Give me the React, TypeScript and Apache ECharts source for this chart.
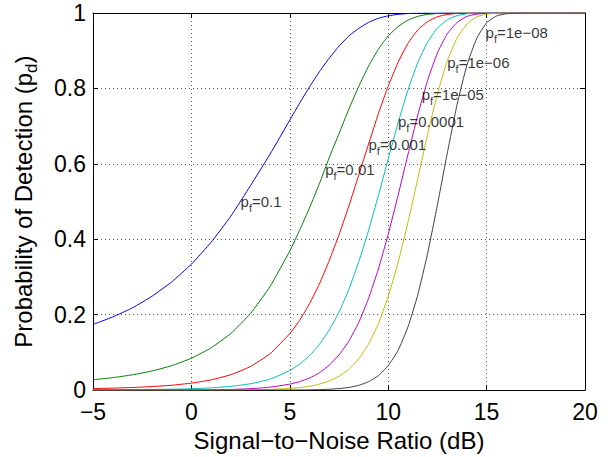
import React, { useEffect, useRef } from 'react';
import * as echarts from 'echarts';

// SNR grid (dB)
const snrDb = [-5, -4, -3, -2, -1, 0, 1, 2, 3, 4, 5, 5.5, 6, 6.5, 7, 7.5, 8, 8.5, 9, 9.5, 10, 10.5, 11, 11.5, 12, 12.5, 13, 13.5, 14, 14.5, 15, 15.5, 16, 17, 18, 19, 20];

// Probability of detection, one array per false-alarm probability
const pdPf1e1 = [0.174, 0.194, 0.218, 0.249, 0.287, 0.334, 0.392, 0.461, 0.542, 0.626, 0.716, 0.761, 0.804, 0.844, 0.880, 0.912, 0.939, 0.959, 0.975, 0.986, 0.9925, 0.9965, 0.9985, 0.9994, 0.9998, 1, 1, 1, 1, 1, 1, 1, 1, 1, 1, 1, 1];
const pdPf1e2 = [0.0275, 0.033, 0.0405, 0.0507, 0.0648, 0.0845, 0.112, 0.150, 0.203, 0.275, 0.369, 0.424, 0.483, 0.547, 0.616, 0.680, 0.745, 0.805, 0.859, 0.904, 0.939, 0.964, 0.981, 0.991, 0.9964, 0.9987, 0.9996, 1, 1, 1, 1, 1, 1, 1, 1, 1, 1];
const pdPf1e3 = [0.0041, 0.0052, 0.0069, 0.0093, 0.0129, 0.0185, 0.0271, 0.0408, 0.0624, 0.0967, 0.150, 0.185, 0.229, 0.281, 0.343, 0.412, 0.488, 0.570, 0.652, 0.733, 0.806, 0.869, 0.919, 0.955, 0.977, 0.990, 0.996, 0.999, 0.9997, 1, 1, 1, 1, 1, 1, 1, 1];
const pdPf1e4 = [0.0006, 0.0008, 0.0011, 0.0016, 0.0024, 0.0037, 0.0059, 0.0098, 0.0168, 0.029, 0.052, 0.069, 0.091, 0.121, 0.159, 0.207, 0.267, 0.340, 0.423, 0.516, 0.613, 0.708, 0.795, 0.868, 0.923, 0.960, 0.982, 0.993, 0.998, 0.9995, 1, 1, 1, 1, 1, 1, 1];
const pdPf1e5 = [0.0001, 0.0001, 0.0002, 0.0003, 0.0004, 0.0006, 0.0010, 0.0018, 0.0038, 0.0078, 0.0158, 0.0225, 0.032, 0.046, 0.066, 0.093, 0.130, 0.179, 0.243, 0.321, 0.413, 0.516, 0.624, 0.729, 0.821, 0.894, 0.9445, 0.975, 0.991, 0.997, 0.9993, 0.9999, 1, 1, 1, 1, 1];
const pdPf1e6 = [0, 0, 0, 0, 0, 0.0001, 0.0002, 0.0004, 0.0009, 0.0019, 0.0045, 0.0068, 0.0103, 0.0158, 0.0243, 0.0368, 0.0552, 0.083, 0.122, 0.176, 0.248, 0.338, 0.444, 0.560, 0.678, 0.785, 0.873, 0.934, 0.971, 0.990, 0.997, 0.9994, 0.9999, 1, 1, 1, 1];
const pdPf1e8 = [0, 0, 0, 0, 0, 0, 0, 0, 0, 0, 0.0002, 0.0004, 0.0007, 0.0013, 0.0022, 0.0040, 0.0070, 0.0125, 0.0222, 0.0382, 0.065, 0.105, 0.167, 0.252, 0.362, 0.491, 0.628, 0.757, 0.862, 0.933, 0.974, 0.992, 0.998, 1, 1, 1, 1];

const seriesData = [pdPf1e1, pdPf1e2, pdPf1e3, pdPf1e4, pdPf1e5, pdPf1e6, pdPf1e8];
const pfNames = ['0.1', '0.01', '0.001', '0.0001', '1e\u221205', '1e\u221206', '1e\u221208'];
const labelAnchorX = [2.5, 6.8, 9.0, 10.5, 11.7, 13.0, 14.95];
const labelAnchorY = [0.5, 0.585, 0.652, 0.712, 0.785, 0.868, 0.948];

const colors = ['#0000ff', '#008000', '#ff0000', '#00bfbf', '#bf00bf', '#bfbf00', '#404040'];
const FONT = 'Liberation Sans, Arial, Helvetica, sans-serif';

export default function App() {
  const ref = useRef<HTMLDivElement>(null);
  useEffect(() => {
    document.body.style.margin = '0';
    const chart = echarts.init(ref.current as HTMLDivElement, null, { renderer: 'svg' });
    const axisLineStyle = { color: '#000', width: 1 };
    const lines = seriesData.map((arr, k) => ({
      type: 'line',
      name: 'pf=' + pfNames[k],
      data: snrDb.map((x, i) => [x, arr[i]]),
      showSymbol: false,
      smooth: 0.15,
      clip: true,
      lineStyle: { color: colors[k], width: 1 },
      itemStyle: { color: colors[k] },
      silent: true,
      z: 3,
    }));
    const labelSeries = {
      type: 'scatter',
      symbolSize: 0,
      silent: true,
      z: 10,
      data: pfNames.map((n, k) => ({ value: [labelAnchorX[k], labelAnchorY[k]], name: n })),
      label: {
        show: true,
        position: 'right',
        distance: 0,
        formatter: (p: any) => '{m|p}{s|f}{m|=' + p.name + '}',
        rich: {
          m: { fontSize: 15, fontFamily: FONT, color: '#000' },
          s: { fontSize: 11, fontFamily: FONT, color: '#000', verticalAlign: 'bottom', lineHeight: 24 },
        },
      },
    };
    chart.setOption({
      animation: false,
      backgroundColor: '#fff',
      grid: { left: 93, right: 28, top: 13, bottom: 59, containLabel: false },
      xAxis: [
        {
          type: 'value', min: -5, max: 20, interval: 5, position: 'bottom',
          axisLine: { show: true, onZero: false, lineStyle: axisLineStyle },
          axisTick: { show: true, inside: true, length: 5, lineStyle: axisLineStyle },
          axisLabel: {
            fontSize: 23, color: '#000', fontFamily: FONT, margin: 10,
            formatter: (v: number) => String(v).replace('-', '\u2212'),
          },
          splitLine: { show: true, lineStyle: { type: [1, 3], color: '#555', width: 1 } },
          name: 'Signal\u2212to\u2212Noise Ratio (dB)',
          nameLocation: 'middle',
          nameGap: 31,
          nameTextStyle: { fontSize: 24, color: '#000', fontFamily: FONT },
        },
        {
          type: 'value', min: -5, max: 20, interval: 5, position: 'top',
          axisLine: { show: true, onZero: false, lineStyle: axisLineStyle },
          axisTick: { show: true, inside: true, length: 5, lineStyle: axisLineStyle },
          axisLabel: { show: false },
          splitLine: { show: false },
        },
      ],
      yAxis: [
        {
          type: 'value', min: 0, max: 1, interval: 0.2, position: 'left',
          axisLine: { show: true, onZero: false, lineStyle: axisLineStyle },
          axisTick: { show: true, inside: true, length: 5, lineStyle: axisLineStyle },
          axisLabel: { fontSize: 23, color: '#000', fontFamily: FONT, margin: 7 },
          splitLine: { show: true, lineStyle: { type: [1, 3], color: '#555', width: 1 } },
          name: '{a|Probability of Detection (p}{s|d}{a|)}',
          nameLocation: 'middle',
          nameGap: 53,
          nameTextStyle: {
            rich: {
              a: { fontSize: 24, color: '#000', fontFamily: FONT },
              s: { fontSize: 17, color: '#000', fontFamily: FONT, verticalAlign: 'bottom', lineHeight: 34 },
            },
          },
        },
        {
          type: 'value', min: 0, max: 1, interval: 0.2, position: 'right',
          axisLine: { show: true, onZero: false, lineStyle: axisLineStyle },
          axisTick: { show: true, inside: true, length: 5, lineStyle: axisLineStyle },
          axisLabel: { show: false },
          splitLine: { show: false },
        },
      ],
      series: [...lines, labelSeries],
    });
    return () => chart.dispose();
  }, []);
  return <div ref={ref} style={{ width: 613, height: 457 }} />;
}
